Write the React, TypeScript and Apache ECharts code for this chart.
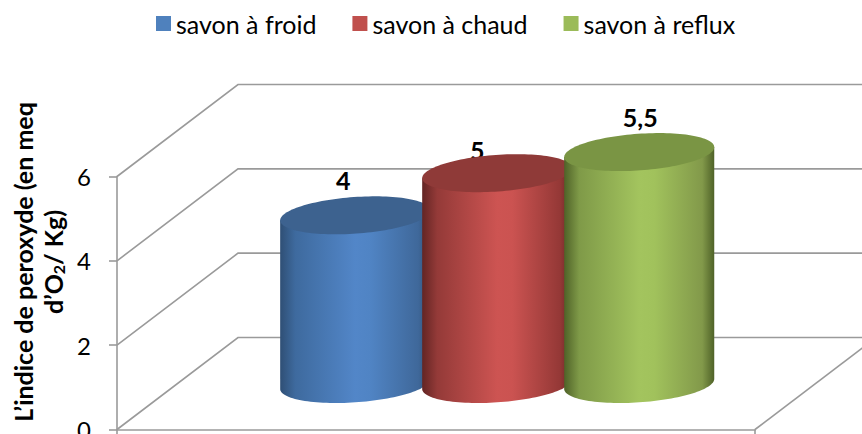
import React, { useEffect, useRef } from "react";
import * as echarts from "echarts";

const seriesNames = ["savon à froid", "savon à chaud", "savon à reflux"];
const seriesValues = [4, 5, 5.5];
const valueLabels = ["4", "5", "5,5"];
const gridTicks = [0, 2, 4, 6];

const FONT = "Lato, Carlito, Calibri, sans-serif";
const GRID_COLOR = "#9a9a9a";
const DEPTH_X = 121;
const DEPTH_Y = 92;
const SLOT = 0.2226;
const RX = 75.2;
const RY = 18.3;
const TILT = (4.04 * Math.PI) / 180;

const sideStops = [
  ["#2f4f75", "#3e6a9e", "#5286c8", "#5084c4", "#3f689a", "#2f4f75"],
  ["#632524", "#943a38", "#cd5452", "#cb5351", "#943836", "#632524"],
  ["#4f6228", "#7f9a48", "#a3c45e", "#a1c25c", "#82994a", "#4f6228"],
];
const capColors = ["#3d628f", "#8f3a38", "#7a9544"];
const legendColors = ["#4f81bd", "#c0504d", "#9bbb59"];
const labelOffsetX = [-12, -20, 1];
const labelOffsetY = [-35.5, -23.5, -35.5];
const stopOffsets = [0, 0.1, 0.5, 0.6, 0.92, 1];

function ringPoint(cx: number, cy: number, t: number): number[] {
  const x = RX * Math.cos(t);
  const y = RY * Math.sin(t);
  return [
    cx + x * Math.cos(TILT) + y * Math.sin(TILT),
    cy - x * Math.sin(TILT) + y * Math.cos(TILT),
  ];
}

function makeCylinderRender(index: number) {
  return (_params: any, api: any) => {
    const band = api.size([1, 0])[0];
    const top = api.coord([0, api.value(1)]);
    const floor = api.coord([0, 0]);
    const cx = top[0] + DEPTH_X / 2 + 0.7 + (index - 1) * SLOT * band;
    const topY = top[1] - DEPTH_Y / 2 + 0.5;
    const baseY = floor[1] - DEPTH_Y / 2 + 0.5;
    const t0 = Math.atan((RY / RX) * Math.tan(TILT));
    const steps = 64;
    const body: number[][] = [];
    for (let i = 0; i <= steps; i++) {
      body.push(ringPoint(cx, baseY, t0 + Math.PI - (i / steps) * Math.PI));
    }
    body.push(ringPoint(cx, topY, t0));
    body.push(ringPoint(cx, topY, t0 + Math.PI));
    const cap: number[][] = [];
    for (let i = 0; i < steps * 2; i++) {
      cap.push(ringPoint(cx, topY, (i / (steps * 2)) * Math.PI * 2));
    }
    return {
      type: "group",
      children: [
        {
          type: "text",
          x: cx + labelOffsetX[index],
          y: topY + labelOffsetY[index],
          style: {
            text: valueLabels[index],
            font: `bold 25px ${FONT}`,
            fill: "#000",
            align: "center",
            verticalAlign: "middle",
          },
        },
        {
          type: "polygon",
          shape: { points: body },
          style: {
            fill: {
              type: "linear",
              x: 0,
              y: 0,
              x2: 1,
              y2: 0,
              colorStops: stopOffsets.map((offset, i) => ({
                offset,
                color: sideStops[index][i],
              })),
            },
          },
        },
        {
          type: "polygon",
          shape: { points: cap },
          style: { fill: capColors[index] },
        },
      ],
    };
  };
}

function renderWall(_params: any, api: any) {
  const v = api.value(0);
  const band = api.size([1, 0])[0];
  const p = api.coord([0, v]);
  const left = p[0] - band / 2;
  const style = { stroke: GRID_COLOR, lineWidth: 1.6, fill: "none" };
  const children: any[] = [
    {
      type: "polyline",
      shape: {
        points: [
          [left, p[1]],
          [left + DEPTH_X, p[1] - DEPTH_Y],
          [left + band + DEPTH_X, p[1] - DEPTH_Y],
        ],
      },
      style,
    },
  ];
  if (v === 0) {
    children.push({
      type: "line",
      shape: {
        x1: left + band,
        y1: p[1],
        x2: left + band + DEPTH_X,
        y2: p[1] - DEPTH_Y,
      },
      style,
    });
  }
  return { type: "group", children };
}

export default function App() {
  const ref = useRef<HTMLDivElement>(null);
  useEffect(() => {
    const chart = echarts.init(ref.current!, null, { renderer: "svg" });
    chart.setOption({
      animation: false,
      backgroundColor: "#ffffff",
      textStyle: { fontFamily: FONT },
      legend: {
        top: 6,
        left: 151,
        data: seriesNames,
        icon: "rect",
        itemWidth: 15,
        itemHeight: 15,
        itemGap: 36,
        selectedMode: false,
        textStyle: { fontFamily: FONT, fontSize: 25, color: "#000" },
      },
      grid: { left: 117, right: 107, top: 176.5, bottom: 4.5, outerBoundsMode: "none" },
      xAxis: {
        type: "category",
        data: [""],
        axisLine: { lineStyle: { color: GRID_COLOR, width: 1.6 } },
        axisTick: { show: true, length: 5, lineStyle: { color: GRID_COLOR, width: 1.6 } },
        axisLabel: { show: false },
      },
      yAxis: {
        type: "value",
        min: 0,
        max: 6,
        interval: 2,
        splitLine: { show: false },
        axisLine: { show: true, lineStyle: { color: GRID_COLOR, width: 1.6 } },
        axisTick: { show: true, length: 8, lineStyle: { color: GRID_COLOR, width: 1.6 } },
        axisLabel: { fontFamily: FONT, fontSize: 24, color: "#000", margin: 26 },
      },
      graphic: [
        {
          type: "text",
          x: 38,
          y: 262,
          rotation: Math.PI / 2,
          style: {
            text: "{a|L’indice de peroxyde (en meq}\n{a|d’O}{s|2}{a|/ Kg)}",
            align: "center",
            verticalAlign: "middle",
            rich: {
              a: { font: `bold 25px ${FONT}`, fill: "#000", lineHeight: 30 },
              s: { font: `bold 16px ${FONT}`, fill: "#000", lineHeight: 30, padding: [10, 0, 0, 0] },
            },
          },
        },
      ],
      series: [
        {
          type: "custom",
          name: "walls",
          silent: true,
          z: 1,
          data: gridTicks.map((t) => [t]),
          encode: { y: 0 },
          renderItem: renderWall,
        },
        ...seriesNames.map((name, i) => ({
          type: "custom",
          name,
          z: 3 + i,
          itemStyle: { color: legendColors[i] },
          data: [[0, seriesValues[i]]],
          encode: { x: 0, y: 1 },
          renderItem: makeCylinderRender(i),
        })),
      ],
    });
    return () => chart.dispose();
  }, []);
  return (
    <div
      ref={ref}
      style={{ position: "absolute", left: 0, top: 0, width: 862, height: 434 }}
    />
  );
}
